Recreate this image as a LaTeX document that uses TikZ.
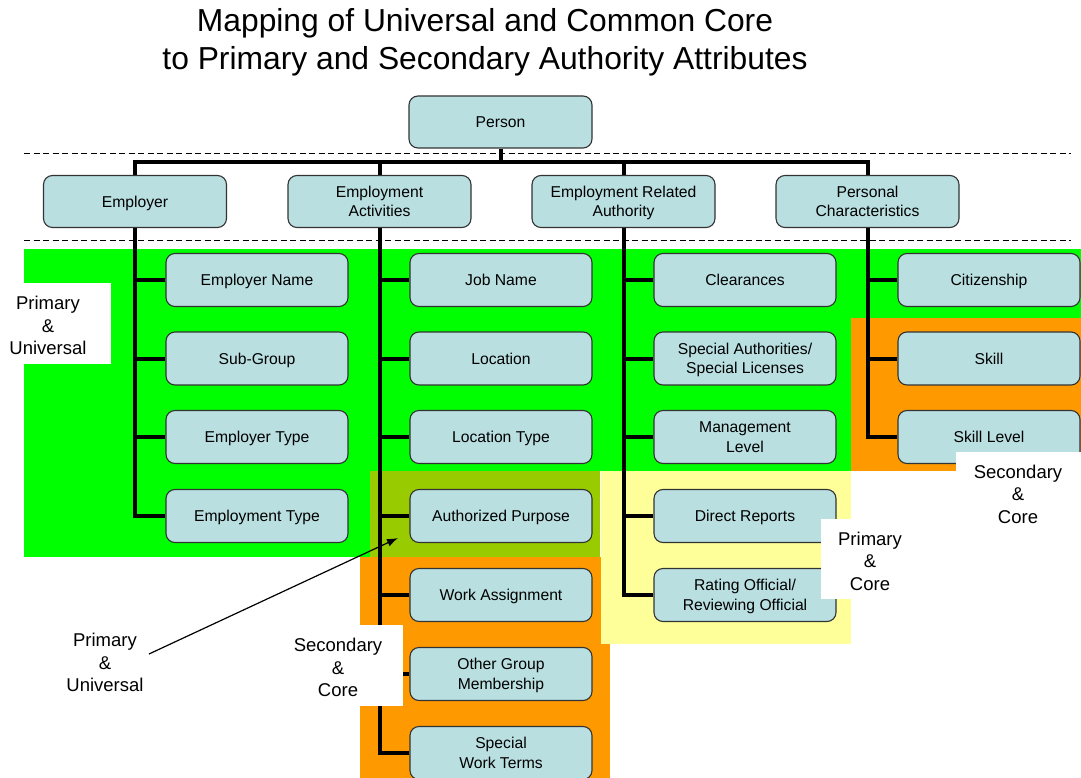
\documentclass[tikz,border=0pt]{standalone}
\usepackage{fontspec}
\setmainfont{Liberation Sans}
\usetikzlibrary{arrows.meta}

\definecolor{boxfill}{RGB}{185,223,225}
\definecolor{zonegreen}{RGB}{0,255,0}
\definecolor{zoneorange}{RGB}{255,153,0}
\definecolor{zoneolive}{RGB}{153,204,0}
\definecolor{zoneyellow}{RGB}{255,255,153}

\pgfdeclarelayer{zones}
\pgfdeclarelayer{wires}
\pgfsetlayers{zones,wires,main}

\tikzset{
  attr/.style={draw=black!80, line width=1.1pt, rounded corners=9pt, fill=boxfill,
    minimum width=182pt, minimum height=53pt, inner sep=0pt, align=center,
    font=\fontsize{15.7}{19.5}\selectfont, text height=11.3pt, text depth=0pt},
  two/.style={text height=30.8pt, text depth=0pt},
  top/.style={attr, minimum width=183pt, minimum height=52pt},
  conn/.style={line width=4pt, line join=miter},
  guide/.style={line width=0.9pt, dash pattern=on 6pt off 3.5pt},
  zonelabel/.style={align=center, inner sep=0pt, font=\fontsize{18.5}{22.5}\selectfont},
  heading/.style={align=center, inner sep=0pt, font=\fontsize{31.8}{38}\selectfont},
  pointer/.style={line width=1.2pt, -{Latex[length=11pt,width=8pt]}}
}

\begin{document}
\begin{tikzpicture}[x=1pt,y=-1pt]
\useasboundingbox (0,0) rectangle (1081,778);

% coloured zones
\begin{pgfonlayer}{zones}
\fill[zonegreen] (24,249) rectangle (1081,471);
\fill[zonegreen] (24,471) rectangle (370,557);
\fill[zoneolive] (370,471) rectangle (600,557);
\fill[zoneorange] (360,557) rectangle (610,778);
\fill[zoneyellow] (601,471) rectangle (851,644);
\fill[zoneorange] (851,318) rectangle (1081,471);
\end{pgfonlayer}

% title
\node[heading] (title) at (485,42) {Mapping of Universal and Common Core\\to Primary and Secondary Authority Attributes};

% level separators
\draw[guide] (24,153) -- (1071,153);
\draw[guide] (24,240) -- (1071,240);

% root and first level
\node[top] (person) at (500.5,122) {Person};
\node[top] (emp) at (135,201.5) {Employer};
\node[top,two] (ea)  at (379.5,201.5) {Employment\\Activities};
\node[top,two] (era) at (623.5,201.5) {Employment Related\\Authority};
\node[top,two] (pc)  at (867.5,201.5) {Personal\\Characteristics};

% attributes: Employer
\node[attr] (e1) at (257,280) {Employer Name};
\node[attr] (e2) at (257,358.5) {Sub-Group};
\node[attr] (e3) at (257,437) {Employer Type};
\node[attr] (e4) at (257,516) {Employment Type};

% attributes: Employment Activities
\node[attr] (a1) at (501,280) {Job Name};
\node[attr] (a2) at (501,358.5) {Location};
\node[attr] (a3) at (501,437) {Location Type};
\node[attr] (a4) at (501,516) {Authorized Purpose};
\node[attr] (a5) at (501,595) {Work Assignment};
\node[attr,two] (a6) at (501,674) {Other Group\\Membership};
\node[attr,two] (a7) at (501,753) {Special\\Work Terms};

% attributes: Employment Related Authority
\node[attr] (r1) at (745,280) {Clearances};
\node[attr,two] (r2) at (745,358.5) {Special Authorities/\\Special Licenses};
\node[attr,two] (r3) at (745,437) {Management\\Level};
\node[attr] (r4) at (745,516) {Direct Reports};
\node[attr,two] (r5) at (745,595) {Rating Official/\\Reviewing Official};

% attributes: Personal Characteristics
\node[attr] (p1) at (989,280) {Citizenship};
\node[attr] (p2) at (989,358.5) {Skill};
\node[attr] (p3) at (989,437) {Skill Level};

% connectors, drawn behind the boxes
\coordinate (bus) at (500,162);
\begin{pgfonlayer}{wires}
\draw[conn] (person.south) -- (person.south |- bus);
\draw[conn] (emp.north) |- (pc.north |- bus) -- (pc.north);
\draw[conn] (ea.north) -- (ea.north |- bus);
\draw[conn] (era.north) -- (era.north |- bus);
\foreach \c in {e1,e2,e3,e4} \draw[conn] (emp.south) |- (\c.west);
\foreach \c in {a1,a2,a3,a4,a5,a6,a7} \draw[conn] (ea.south) |- (\c.west);
\foreach \c in {r1,r2,r3,r4,r5} \draw[conn] (era.south) |- (\c.west);
\foreach \c in {p1,p2,p3} \draw[conn] (pc.south) |- (\c.west);
\end{pgfonlayer}

% zone labels
\fill[white] (0,283) rectangle (111,364);
\node[zonelabel] (lpu) at (48,325.5) {Primary\\\&\\Universal};
\fill[white] (956,452) rectangle (1081,540);
\node[zonelabel] (lsc) at (1018,494) {Secondary\\\&\\Core};
\fill[white] (821,519) rectangle (920,599);
\node[zonelabel] (lpc) at (870,561) {Primary\\\&\\Core};
\fill[white] (285,625) rectangle (403,706);
\node[zonelabel] (lsc2) at (338,667.5) {Secondary\\\&\\Core};
\node[zonelabel] (lpu2) at (105,662.5) {Primary\\\&\\Universal};

% pointer to the overlap zone
\coordinate (ptrstart) at (149,654);
\coordinate (ptrtip) at (398,538);
\draw[pointer] (ptrstart) -- (ptrtip);
\end{tikzpicture}
\end{document}
